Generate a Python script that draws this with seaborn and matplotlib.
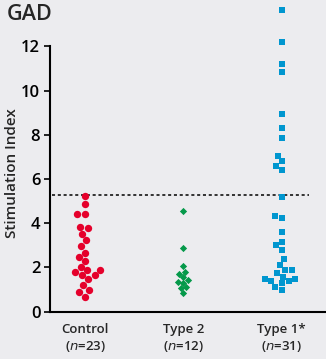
import matplotlib
matplotlib.use("Agg")
import matplotlib.pyplot as plt
import seaborn as sns
import pandas as pd

# values (stimulation index per subject)
groups = ["Control", "Type 2", "Type 1*"]
group_counts = [23, 12, 31]
control = [5.22, 4.86, 4.41, 4.41, 3.85, 3.77, 3.53, 3.23, 2.96, 2.67, 2.48, 2.3,
           2.04, 1.89, 1.89, 1.8, 1.66, 1.66, 1.47, 1.21, 0.97, 0.91, 0.68]
type2 = [4.57, 2.88, 2.05, 1.78, 1.71, 1.56, 1.44, 1.36, 1.31, 1.1, 1.06, 0.85]
type1 = [13.65, 12.2, 11.2, 10.84, 8.94, 8.31, 7.85, 7.05, 6.8, 6.6, 6.4, 5.2,
         4.35, 4.23, 3.62, 3.17, 3.0, 2.79, 2.37, 2.11, 1.89, 1.89, 1.74, 1.59,
         1.5, 1.47, 1.38, 1.38, 1.29, 1.13, 0.98]
cutoff = 5.3

colors = ["#e5002b", "#05994a", "#0096cf"]
markers = ["o", "D", "s"]
sizes = [5.3, 3.7, 4.9]

df = pd.DataFrame({
    "group": ["Control"] * len(control) + ["Type 2"] * len(type2) + ["Type 1*"] * len(type1),
    "value": control + type2 + type1,
})

sns.set_theme(style="ticks")
bg = "#ececef"
plt.rcParams["font.family"] = ["Open Sans", "DejaVu Sans"]

fig = plt.figure(figsize=(3.26, 3.59), dpi=100, facecolor=bg)
ax = fig.add_axes([0.1534, 0.1318, 0.8466, 0.868], facecolor=bg)

for g, c, m, s in zip(groups, colors, markers, sizes):
    sns.swarmplot(data=df[df.group == g], x="group", y="value", order=groups,
                  color=c, marker=m, size=s, linewidth=0, ax=ax, clip_on=False)

ax.plot([-0.33, 2.28], [cutoff, cutoff], ls=(0, (2, 1.8)), color="black", lw=1.1)

ax.set_xlim(-0.355, 2.45)
ax.set_ylim(0, 14.1)
ax.set_yticks([0, 2, 4, 6, 8, 10, 12])
ax.tick_params(axis="y", length=4, width=1.2, labelsize=12, pad=3, colors="black")
ax.tick_params(axis="x", length=0, pad=8)
ax.set_xticks(range(len(groups)))
ax.set_xticklabels([f"{g}\n($\\it{{n}}$={n})" for g, n in zip(groups, group_counts)],
                   fontsize=9.5, fontweight="semibold", linespacing=1.3)
for lab in ax.get_yticklabels():
    lab.set_fontweight("semibold")

sns.despine(ax=ax)
ax.spines["left"].set_bounds(0, 12)
for side in ["left", "bottom"]:
    ax.spines[side].set_linewidth(1.5)
    ax.spines[side].set_color("black")

ax.set_xlabel("")
ax.set_ylabel("Stimulation Index", fontsize=11, fontweight="semibold")
ax.yaxis.set_label_coords(-0.112, 0.445)

fig.text(0.02, 0.99, "GAD", fontsize=15.5, fontweight="semibold", va="top", ha="left")

fig.savefig("out.png", dpi=100, facecolor=bg)
